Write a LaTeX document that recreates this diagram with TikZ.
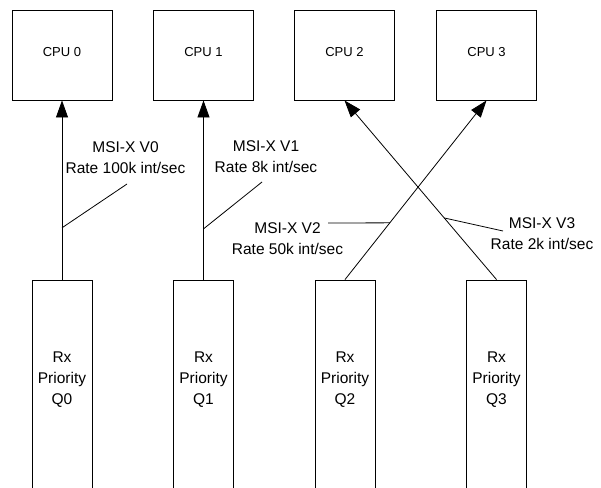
\documentclass[tikz,border=0pt]{standalone}
\usepackage{fontspec}
\setmainfont{Liberation Sans}
\usetikzlibrary{arrows.meta}
\begin{document}
\begin{tikzpicture}[x=1pt,y=-1pt,
  cpubox/.style={draw, line width=0.9pt, minimum width=100pt, minimum height=90pt, inner sep=0pt, text height=9.3pt, text depth=6pt, font=\fontsize{13}{15}\selectfont},
  qbox/.style={draw, line width=0.9pt, minimum width=60pt, minimum height=230pt, inner sep=0pt},
  qtext/.style={align=center, font=\fontsize{15.5}{21}\selectfont, inner sep=0pt},
  lbl/.style={align=center, font=\fontsize{15.5}{21}\selectfont, inner sep=0pt},
  msi/.style={line width=0.8pt, -{Triangle[width=12pt,length=17pt]}},
  lead/.style={line width=0.8pt}]
\useasboundingbox (0,0) rectangle (601,487);
\clip (0,0) rectangle (601,487);
% CPUs
\node[cpubox] (c0) at (62,55) {CPU 0};
\node[cpubox] (c1) at (203.5,55) {CPU 1};
\node[cpubox] (c2) at (344.5,55) {CPU 2};
\node[cpubox] (c3) at (486.5,55) {CPU 3};
% Queues
\node[qbox] (q0) at (62,395) {};
\node[qbox] (q1) at (203.5,395) {};
\node[qbox] (q2) at (345,395) {};
\node[qbox] (q3) at (496.5,395) {};
\node[qtext] (t0) at (62,379.5) {Rx\\Priority\\Q0};
\node[qtext] (t1) at (203.5,379.5) {Rx\\Priority\\Q1};
\node[qtext] (t2) at (345,379.5) {Rx\\Priority\\Q2};
\node[qtext] (t3) at (496.5,379.5) {Rx\\Priority\\Q3};
% arrows
\draw[msi] (q0.north) -- (c0.south);
\draw[msi] (q1.north) -- (c1.south);
\draw[msi] (q2.north) -- (c3.south);
\draw[msi] (q3.north) -- (c2.south);
% lead points
\path (q0.north) -- (c0.south) coordinate[pos=0.289] (a0);
\path (q1.north) -- (c1.south) coordinate[pos=0.283] (a1);
\path (q2.north) -- (c3.south) coordinate[pos=0.3167] (a2);
\path (q3.north) -- (c2.south) coordinate[pos=0.344] (a3);
\coordinate (e0) at (127,184);
\coordinate (e1) at (262,182);
\coordinate (e2) at (328,223);
\coordinate (e3) at (503,231);
\draw[lead] (a0) -- (e0);
\draw[lead] (a1) -- (e1);
\draw[lead] (a2) -- (e2);
\draw[lead] (a3) -- (e3);
% labels
\node[lbl] (l0) at (125.5,157.5) {MSI-X V0\\Rate 100k int/sec};
\node[lbl] (l1) at (266,156.5) {MSI-X V1\\Rate 8k int/sec};
\node[lbl] (l2) at (287.5,238.5) {MSI-X V2\\Rate 50k int/sec};
\node[lbl] (l3) at (542,234) {MSI-X V3\\Rate 2k int/sec};
\end{tikzpicture}
\end{document}
